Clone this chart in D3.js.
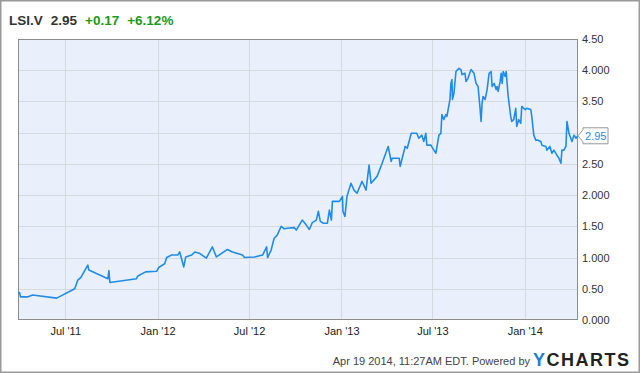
<!DOCTYPE html>
<html>
<head>
<meta charset="utf-8">
<script src="https://cdn.jsdelivr.net/npm/d3@7"></script>
<style>
  body { margin: 0; background: #fff; }
  svg { display: block; font-family: "Liberation Sans", Arial, sans-serif; }
</style>
</head>
<body>
<svg id="chart" width="640" height="373"></svg>
<script>
const ticker = "LSI.V";
const lastPrice = "2.95";
const change = "+0.17";
const changePct = "+6.12%";
const stamp = "Apr 19 2014, 11:27AM EDT. Powered by";

const dates = [
  "2011-03-29","2011-04-01","2011-04-03","2011-04-17","2011-04-27","2011-06-14","2011-07-20","2011-07-26",
  "2011-08-01","2011-08-15","2011-08-17","2011-09-24","2011-09-26","2011-09-28","2011-11-20","2011-11-22",
  "2011-12-08","2011-12-30","2012-01-03","2012-01-15","2012-01-19","2012-01-29","2012-02-10","2012-02-14",
  "2012-02-22","2012-02-26","2012-03-09","2012-03-15","2012-03-24","2012-04-07","2012-04-19","2012-04-27",
  "2012-05-19","2012-05-29","2012-06-18","2012-06-22","2012-07-12","2012-07-28","2012-08-05","2012-08-07",
  "2012-08-14","2012-08-20","2012-08-26","2012-09-03","2012-09-09","2012-09-15","2012-09-29","2012-10-03",
  "2012-10-15","2012-10-23","2012-10-29","2012-11-04","2012-11-12","2012-11-16","2012-11-20","2012-11-26",
  "2012-12-04","2012-12-08","2012-12-12","2012-12-14","2012-12-28","2013-01-03","2013-01-04","2013-01-08",
  "2013-01-12","2013-01-20","2013-01-26","2013-02-01","2013-02-11","2013-02-19","2013-02-25","2013-03-01",
  "2013-03-13","2013-03-23","2013-04-04","2013-04-10","2013-04-12","2013-04-26","2013-04-28","2013-05-02",
  "2013-05-08","2013-05-12","2013-05-20","2013-05-31","2013-06-04","2013-06-10","2013-06-14","2013-06-18",
  "2013-06-20","2013-06-28","2013-07-04","2013-07-08","2013-07-14","2013-07-18","2013-07-20","2013-07-24",
  "2013-07-28","2013-07-30","2013-08-05","2013-08-07","2013-08-09","2013-08-10","2013-08-13","2013-08-17",
  "2013-08-23","2013-08-27","2013-08-29","2013-09-04","2013-09-06","2013-09-10","2013-09-16","2013-09-22",
  "2013-09-26","2013-09-30","2013-10-04","2013-10-06","2013-10-08","2013-10-10","2013-10-14","2013-10-18",
  "2013-10-22","2013-10-26","2013-10-28","2013-11-01","2013-11-05","2013-11-07","2013-11-09","2013-11-13",
  "2013-11-15","2013-11-17","2013-11-19","2013-11-23","2013-11-25","2013-11-29","2013-12-04","2013-12-06",
  "2013-12-10","2013-12-14","2013-12-16","2013-12-20","2013-12-24","2013-12-26","2013-12-30","2014-01-02",
  "2014-01-05","2014-01-13","2014-01-15","2014-01-19","2014-01-23","2014-01-27","2014-02-02","2014-02-04",
  "2014-02-12","2014-02-14","2014-02-20","2014-02-24","2014-02-28","2014-03-06","2014-03-10","2014-03-14",
  "2014-03-16","2014-03-20","2014-03-24","2014-03-26","2014-03-30","2014-04-05","2014-04-09","2014-04-13",
  "2014-04-17"
];
const prices = [
  0.44,0.44,0.37,0.37,0.40,0.35,0.50,0.64,
  0.68,0.88,0.80,0.66,0.79,0.60,0.66,0.70,
  0.77,0.78,0.84,0.90,1.00,1.04,1.04,1.09,
  0.85,1.01,1.04,1.09,1.07,0.99,1.17,1.01,
  1.13,1.09,1.04,1.00,1.01,1.04,1.17,1.00,
  1.12,1.31,1.36,1.50,1.46,1.47,1.48,1.44,
  1.60,1.52,1.45,1.56,1.60,1.74,1.58,1.55,
  1.55,1.76,1.60,1.90,1.90,1.98,1.74,1.66,
  1.98,2.19,2.08,2.03,2.22,2.08,2.48,2.19,
  2.30,2.51,2.78,2.54,2.59,2.59,2.46,2.59,
  2.78,2.75,2.99,2.99,2.91,2.96,2.86,2.99,
  2.80,2.80,2.72,2.67,2.96,2.99,3.29,3.21,
  3.29,3.26,3.53,3.79,3.85,3.53,3.63,3.98,
  4.03,4.01,3.93,3.95,3.82,3.87,4.01,3.95,
  3.79,3.74,3.39,3.18,3.47,3.58,3.53,3.69,
  3.95,3.98,3.74,3.79,3.69,3.74,3.66,3.82,
  3.95,3.79,3.98,3.90,3.98,3.58,3.26,3.18,
  3.21,3.39,3.10,3.21,3.15,3.42,3.39,3.37,
  3.39,3.37,3.26,2.96,2.88,2.88,2.86,2.80,
  2.78,2.72,2.78,2.67,2.72,2.64,2.59,2.51,
  2.72,2.72,2.78,3.18,2.99,2.86,2.96,2.91,
  2.95
];
const yTicks = [0, 0.5, 1, 1.5, 2, 2.5, 3, 3.5, 4, 4.5];
const yTickLabels = ["0.000","0.50","1.000","1.50","2.000","2.50","3.000","3.50","4.000","4.50"];
const xTicks = ["2011-07-01","2012-01-01","2012-07-01","2013-01-01","2013-07-01","2014-01-01"];
const xTickLabels = ["Jul '11","Jan '12","Jul '12","Jan '13","Jul '13","Jan '14"];

const parse = d3.timeParse("%Y-%m-%d");
const data = dates.map((d, i) => ({ date: parse(d), value: prices[i] }));

const plot = { left: 18, right: 578, top: 39, bottom: 320 };
const svg = d3.select("#chart");

// outer frame
svg.append("rect")
  .attr("x", 0.5).attr("y", 0.5).attr("width", 639).attr("height", 372)
  .attr("fill", "#fff").attr("stroke", "#9a9a9a").attr("stroke-width", 2);

const x = d3.scaleTime()
  .domain([parse("2011-03-29"), parse("2014-04-17")])
  .range([plot.left, plot.right]);
const y = d3.scaleLinear()
  .domain([0, 4.5])
  .range([plot.bottom, plot.top]);

svg.append("rect")
  .attr("x", plot.left).attr("y", plot.top)
  .attr("width", plot.right - plot.left).attr("height", plot.bottom - plot.top)
  .attr("fill", "#eaf0fb");

// grid
svg.append("g").selectAll("line")
  .data(yTicks.slice(1, -1))
  .enter().append("line")
  .attr("x1", plot.left).attr("x2", plot.right)
  .attr("y1", d => Math.round(y(d)) + 0.5).attr("y2", d => Math.round(y(d)) + 0.5)
  .attr("stroke", "#d6d9de");
svg.append("g").selectAll("line")
  .data(xTicks.map(parse))
  .enter().append("line")
  .attr("x1", d => Math.round(x(d)) + 0.5).attr("x2", d => Math.round(x(d)) + 0.5)
  .attr("y1", plot.top).attr("y2", plot.bottom)
  .attr("stroke", "#d6d9de");

svg.append("rect")
  .attr("x", plot.left + 0.5).attr("y", plot.top + 0.5)
  .attr("width", plot.right - plot.left - 1).attr("height", plot.bottom - plot.top - 1)
  .attr("fill", "none").attr("stroke", "#8c8c8c");

const last = data[data.length - 1];
const fy = y(last.value);

// axes (the tick label under the last-price flag is covered in the original)
const shown = yTicks.filter(d => Math.abs(y(d) - fy) > 10);
const yAxis = d3.axisRight(y)
  .tickValues(shown)
  .tickSize(0).tickPadding(4)
  .tickFormat(d => yTickLabels[yTicks.indexOf(d)]);
svg.append("g")
  .attr("transform", `translate(${plot.right},0)`)
  .call(yAxis)
  .call(g => g.select(".domain").remove())
  .selectAll("text").attr("font-size", 11).attr("fill", "#333")
  .attr("font-family", "Liberation Sans, Arial, sans-serif");

const xAxis = d3.axisBottom(x)
  .tickValues(xTicks.map(parse))
  .tickSize(0).tickPadding(7)
  .tickFormat((d, i) => xTickLabels[i]);
svg.append("g")
  .attr("transform", `translate(0,${plot.bottom})`)
  .call(xAxis)
  .call(g => g.select(".domain").remove())
  .selectAll("text").attr("font-size", 11).attr("fill", "#222")
  .attr("font-family", "Liberation Sans, Arial, sans-serif");

// price line
const line = d3.line().x(d => x(d.date)).y(d => y(d.value));
svg.append("path")
  .datum(data)
  .attr("d", line)
  .attr("fill", "none")
  .attr("stroke", "#1f8ceb")
  .attr("stroke-width", 1.6)
  .attr("stroke-linejoin", "round");

// last price flag
const fx = plot.right;
svg.append("path")
  .attr("d", `M${fx},${fy} L${fx + 5},${fy - 6} L${fx + 5},${fy - 8} L${fx + 30},${fy - 8} L${fx + 30},${fy + 8} L${fx + 5},${fy + 8} L${fx + 5},${fy + 6} Z`)
  .attr("fill", "#fff").attr("stroke", "#999");
svg.append("text")
  .attr("x", fx + 7).attr("y", fy + 4)
  .attr("font-size", 11).attr("fill", "#1f8ceb")
  .text(lastPrice);

// header
const head = svg.append("text").attr("x", 9).attr("y", 25)
  .attr("font-size", 13.5).attr("font-weight", "bold");
head.append("tspan").attr("fill", "#333").text(ticker);
head.append("tspan").attr("fill", "#333").attr("dx", 8).text(lastPrice);
head.append("tspan").attr("fill", "#1a9a1a").attr("dx", 8).text(change);
head.append("tspan").attr("fill", "#1a9a1a").attr("dx", 8).text(changePct);

// footer
svg.append("text")
  .attr("x", 530).attr("y", 365).attr("text-anchor", "end")
  .attr("font-size", 11).attr("fill", "#444")
  .text(stamp);
const logo = svg.append("text").attr("x", 533).attr("y", 366)
  .attr("font-size", 18).attr("font-weight", "bold").attr("letter-spacing", 1.5);
logo.append("tspan").attr("fill", "#1e7fd6").text("Y");
logo.append("tspan").attr("fill", "#222").text("CHARTS");
</script>
</body>
</html>
